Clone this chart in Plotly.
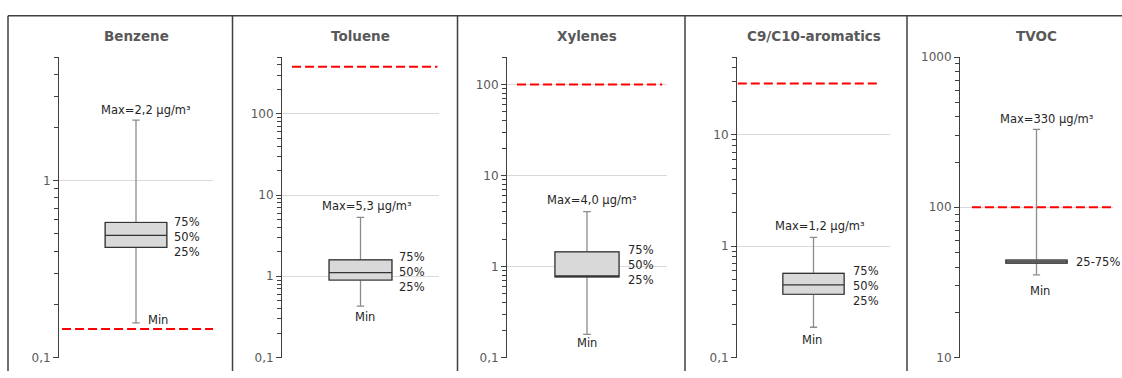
import math
import plotly.graph_objects as go

# ---------------- data ----------------
titles = ["Benzene", "Toluene", "Xylenes", "C9/C10-aromatics", "TVOC"]
mins = [0.157, 0.43, 0.18, 0.187, 35.5]
q1s = [0.42, 0.90, 0.77, 0.37, 42.5]
medians = [0.49, 1.11, 0.77, 0.45, 43.4]
q3s = [0.58, 1.59, 1.45, 0.57, 44.5]
maxs = [2.2, 5.3, 4.0, 1.2, 330]
limits = [0.145, 380, 100, 29, 100]
max_labels = ["Max=2,2 µg/m³", "Max=5,3 µg/m³", "Max=4,0 µg/m³", "Max=1,2 µg/m³", "Max=330 µg/m³"]
pct_labels = ["75%<br>50%<br>25%"] * 4 + ["25-75%"]
y_min = [0.1, 0.1, 0.1, 0.1, 10]
y_max = [5, 500, 200, 50, 1000]
major_vals = [[0.1, 1], [0.1, 1, 10, 100], [0.1, 1, 10, 100], [0.1, 1, 10], [10, 100, 1000]]
major_text = [["0,1", "1"], ["0,1", "1", "10", "100"], ["0,1", "1", "10", "100"],
              ["0,1", "1", "10"], ["10", "100", "1000"]]

# ---------------- layout / style ----------------
W, H = 1122, 378
x_px = [(59, 213), (282, 439), (507, 667), (737, 890), (960, 1113)]
y_top_px, y_bot_px = 52, 364
red_span = [(0.02, 1.0), (0.064, 0.99), (0.0625, 0.97), (0.005, 0.94), (0.078, 1.03)]
max_shift = [(10, 10), (6, 11), (5, 12), (6, 11), (10, 10)]
min_pos = [("left", 10, 3), ("center", 4, -11), ("center", 0, -9), ("center", -2, -13), ("center", 3, -16)]
pct_shift = [(5, 2), (5, 2), (7, 1), (7, 2), (7, 0)]
sep_px = [8, 232.5, 457.5, 685, 907]
top_px = 9

text_color = "#262626"
axis_text = "#595959"
font_family = "DejaVu Sans"

fig = go.Figure()
shapes = []
annotations = []

def minor_ticks(lo, hi):
    vals = []
    d = math.floor(math.log10(lo))
    while 10 ** d <= hi:
        for m in range(2, 10):
            v = m * 10 ** d
            if lo < v <= hi * 1.0001:
                vals.append(v)
        d += 1
    return vals

for i in range(5):
    xa = "x" if i == 0 else f"x{i+1}"
    ya = "y" if i == 0 else f"y{i+1}"
    xk = "xaxis" if i == 0 else f"xaxis{i+1}"
    yk = "yaxis" if i == 0 else f"yaxis{i+1}"

    # whiskers (grey)
    fig.add_trace(go.Box(
        x=[0.5], q1=[q1s[i]], median=[medians[i]], q3=[q3s[i]],
        lowerfence=[mins[i]], upperfence=[maxs[i]],
        width=0.4, whiskerwidth=0.12, boxpoints=False,
        fillcolor="#d9d9d9", line=dict(color="#8c8c8c", width=1.3),
        xaxis=xa, yaxis=ya, showlegend=False, hoverinfo="skip"))
    # box (dark outline)
    fig.add_trace(go.Box(
        x=[0.5], q1=[q1s[i]], median=[medians[i]], q3=[q3s[i]],
        lowerfence=[q1s[i]], upperfence=[q3s[i]],
        width=0.4, whiskerwidth=0, boxpoints=False,
        fillcolor="#d9d9d9", line=dict(color="#333333", width=1.2),
        xaxis=xa, yaxis=ya, showlegend=False, hoverinfo="skip"))
    # limit line
    fig.add_trace(go.Scatter(
        x=list(red_span[i]), y=[limits[i], limits[i]], mode="lines",
        line=dict(color="#ff0000", width=2, dash="9px,4px"),
        xaxis=xa, yaxis=ya, showlegend=False, hoverinfo="skip", cliponaxis=False))

    x0p, x1p = x_px[i]
    fig.layout[xk] = dict(domain=[x0p / W, x1p / W], range=[0, 1], visible=False,
                          fixedrange=True)
    fig.layout[yk] = dict(
        domain=[(H - y_bot_px) / H, (H - y_top_px) / H],
        type="log", range=[math.log10(y_min[i]), math.log10(y_max[i])],
        anchor=xa, showline=True, linecolor="#404040", linewidth=1,
        ticks="outside", ticklen=5, tickcolor="#404040", tickwidth=1,
        tickmode="array", tickvals=major_vals[i], ticktext=major_text[i],
        showgrid=True, gridcolor="#d9d9d9", gridwidth=1, zeroline=False,
        tickfont=dict(family=font_family, size=12, color=axis_text),
        minor=dict(tickmode="array", tickvals=minor_ticks(y_min[i], y_max[i]),
                   ticks="outside", ticklen=4, tickcolor="#404040", tickwidth=1,
                   showgrid=False),
        fixedrange=True)

    # title
    annotations.append(dict(
        text=f"<b>{titles[i]}</b>", xref=f"{xa} domain", yref="paper",
        x=0.5, y=(H - 30) / H, xanchor="center", yanchor="middle", showarrow=False,
        font=dict(family=font_family, size=13.5, color=axis_text)))
    # max label
    annotations.append(dict(
        text=max_labels[i], xref=xa, yref=ya, x=0.5, y=math.log10(maxs[i]),
        xanchor="center", yanchor="middle", xshift=max_shift[i][0], yshift=max_shift[i][1],
        showarrow=False, font=dict(family=font_family, size=11.5, color=text_color)))
    # percent labels
    mid = math.sqrt(q1s[i] * q3s[i])
    annotations.append(dict(
        text=pct_labels[i], xref=xa, yref=ya, x=0.7, y=math.log10(mid),
        xanchor="left", yanchor="middle", align="left",
        xshift=pct_shift[i][0], yshift=-pct_shift[i][1],
        showarrow=False, font=dict(family=font_family, size=11.5, color=text_color)))
    # min label
    anc, xs, ys = min_pos[i]
    annotations.append(dict(
        text="Min", xref=xa, yref=ya, x=0.5, y=math.log10(mins[i]),
        xanchor=anc, yanchor="middle", xshift=xs, yshift=ys,
        showarrow=False, font=dict(family=font_family, size=11.5, color=text_color)))

# panel borders
shapes.append(dict(type="line", xref="paper", yref="paper",
                   x0=sep_px[0] / W, x1=1.0, y0=(H - top_px) / H, y1=(H - top_px) / H,
                   line=dict(color="#404040", width=1.5)))
for sx in sep_px:
    shapes.append(dict(type="line", xref="paper", yref="paper",
                       x0=sx / W, x1=sx / W, y0=0, y1=(H - top_px) / H,
                       line=dict(color="#404040", width=1.5)))

fig.update_layout(
    width=W, height=H, margin=dict(l=0, r=0, t=0, b=0),
    paper_bgcolor="white", plot_bgcolor="white",
    shapes=shapes, annotations=annotations, showlegend=False,
    font=dict(family=font_family),
)

fig.write_html("out.html", config={"displayModeBar": False})
